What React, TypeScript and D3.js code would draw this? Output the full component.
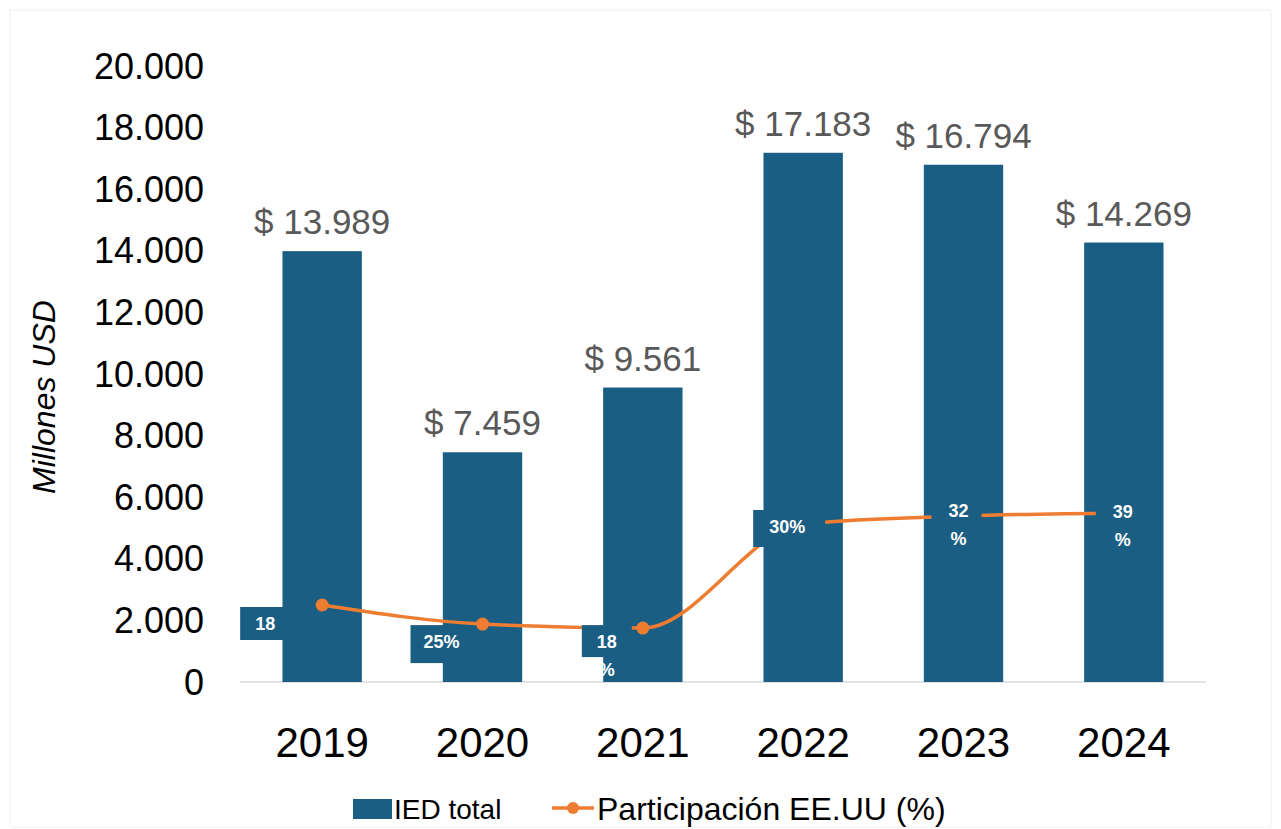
import React, { useEffect, useRef } from "react";
import * as d3 from "d3";

const years = ["2019", "2020", "2021", "2022", "2023", "2024"];
const iedTotal = [13989, 7459, 9561, 17183, 16794, 14269];
// line level on the (hidden) plotting scale, as drawn in the source chart
const usShareLevel = [2500, 1880, 1750, 5130, 5390, 5490];
const usShareLabels = [["18"], ["25%"], ["18", "%"], ["30%"], ["32", "%"], ["39", "%"]];
const yTicks = [0, 2000, 4000, 6000, 8000, 10000, 12000, 14000, 16000, 18000, 20000];

const W = 1281;
const H = 829;
const BAR = "#1b5e84";
const ORANGE = "#ee7d31";
const FONT = "'Liberation Sans', Arial, sans-serif";

const fmt = (v: number) => d3.format(",")(v).replace(/,/g, ".");

const App: React.FC = () => {
  const svgRef = useRef<SVGSVGElement | null>(null);

  useEffect(() => {
    if (!svgRef.current) return;
    const svg = d3.select(svgRef.current);
    svg.selectAll("*").remove();

    const margin = { left: 242, right: 77, top: 66, bottom: 147 };
    const x = d3.scaleBand().domain(years).range([margin.left, W - margin.right]).paddingInner(0.505).paddingOuter(0.2525);
    const y = d3.scaleLinear().domain([0, 20000]).range([H - margin.bottom, margin.top]);

    // frame
    svg.append("rect").attr("x", 10).attr("y", 10).attr("width", W - 20).attr("height", H - 12)
      .attr("fill", "#fff").attr("stroke", "#f0f0f0");

    // y ticks
    svg.append("g").selectAll("text").data(yTicks).enter().append("text")
      .attr("x", 204).attr("y", (d) => y(d)).attr("dy", "0.35em")
      .attr("text-anchor", "end").attr("font-family", FONT).attr("font-size", 36).attr("fill", "#000")
      .text((d) => fmt(d));

    svg.append("text")
      .attr("transform", `translate(55, ${397}) rotate(-90)`)
      .attr("text-anchor", "middle").attr("font-family", FONT).attr("font-style", "italic")
      .attr("font-size", 32).attr("fill", "#000").text("Millones USD");

    // baseline
    svg.append("line").attr("x1", margin.left - 2).attr("x2", W - margin.right + 2)
      .attr("y1", y(0)).attr("y2", y(0)).attr("stroke", "#d9d9d9").attr("stroke-width", 1.5);

    // bars
    svg.append("g").selectAll("rect").data(iedTotal).enter().append("rect")
      .attr("x", (_, i) => x(years[i])!).attr("width", x.bandwidth())
      .attr("y", (d) => y(d)).attr("height", (d) => y(0) - y(d)).attr("fill", BAR);

    // bar labels
    svg.append("g").selectAll("text").data(iedTotal).enter().append("text")
      .attr("x", (_, i) => x(years[i])! + x.bandwidth() / 2).attr("y", (d) => y(d) - 17)
      .attr("text-anchor", "middle").attr("font-family", FONT).attr("font-size", 35).attr("fill", "#595959")
      .text((d) => `$ ${fmt(d)}`);

    // x labels
    svg.append("g").selectAll("text").data(years).enter().append("text")
      .attr("x", (d) => x(d)! + x.bandwidth() / 2).attr("y", 757)
      .attr("text-anchor", "middle").attr("font-family", FONT).attr("font-size", 42).attr("fill", "#000")
      .text((d) => d);

    // line
    const pts: [number, number][] = usShareLevel.map((v, i) => [x(years[i])! + x.bandwidth() / 2, y(v)]);
    svg.append("path").attr("d", d3.line().curve(d3.curveMonotoneX)(pts)!)
      .attr("fill", "none").attr("stroke", ORANGE).attr("stroke-width", 3.5);
    svg.append("g").selectAll("circle").data(pts).enter().append("circle")
      .attr("cx", (d) => d[0]).attr("cy", (d) => d[1]).attr("r", 6.5).attr("fill", ORANGE);

    // line labels (boxes in bar colour, offsets per label as in source)
    const boxes = [
      { dx: -82, dy: 2, w: 50, h: 33 },
      { dx: -72, dy: 1, w: 62, h: 38 },
      { dx: -61, dy: -3, w: 50, h: 32 },
      { dx: -50, dy: -14, w: 72, h: 37 },
      { dx: -32, dy: -22, w: 50, h: 48 },
      { dx: -28, dy: -18, w: 50, h: 48 },
    ];
    const lab = svg.append("g");
    usShareLabels.forEach((lines, i) => {
      const b = boxes[i];
      const [px, py] = pts[i];
      lab.append("rect").attr("x", px + b.dx).attr("y", py + b.dy).attr("width", b.w).attr("height", b.h).attr("fill", BAR);
      const cx = px + b.dx + (i < 4 ? b.w / 2 + (i === 3 ? -2 : 0) : b.w / 2 + 2);
      lines.forEach((t, j) => {
        lab.append("text").attr("x", cx).attr("y", py + b.dy + 23 + j * 28)
          .attr("text-anchor", "middle").attr("font-family", FONT).attr("font-weight", "bold")
          .attr("font-size", 18).attr("fill", "#fff").text(t);
      });
    });

    // legend
    const lg = svg.append("g");
    lg.append("rect").attr("x", 353).attr("y", 799).attr("width", 39).attr("height", 20).attr("fill", BAR);
    lg.append("text").attr("x", 394).attr("y", 819).attr("font-family", FONT)
      .attr("font-size", 28).attr("fill", "#000").text("IED total");
    lg.append("line").attr("x1", 552).attr("x2", 594).attr("y1", 808).attr("y2", 808).attr("stroke", ORANGE).attr("stroke-width", 3.5);
    lg.append("circle").attr("cx", 573).attr("cy", 808).attr("r", 6).attr("fill", ORANGE);
    lg.append("text").attr("x", 597).attr("y", 820).attr("font-family", FONT)
      .attr("font-size", 32).attr("fill", "#000").text("Participación EE.UU (%)");
  }, []);

  return (
    <svg ref={svgRef} width={W} height={H} style={{ position: "absolute", left: 0, top: 0, background: "#fff" }} />
  );
};

export default App;
